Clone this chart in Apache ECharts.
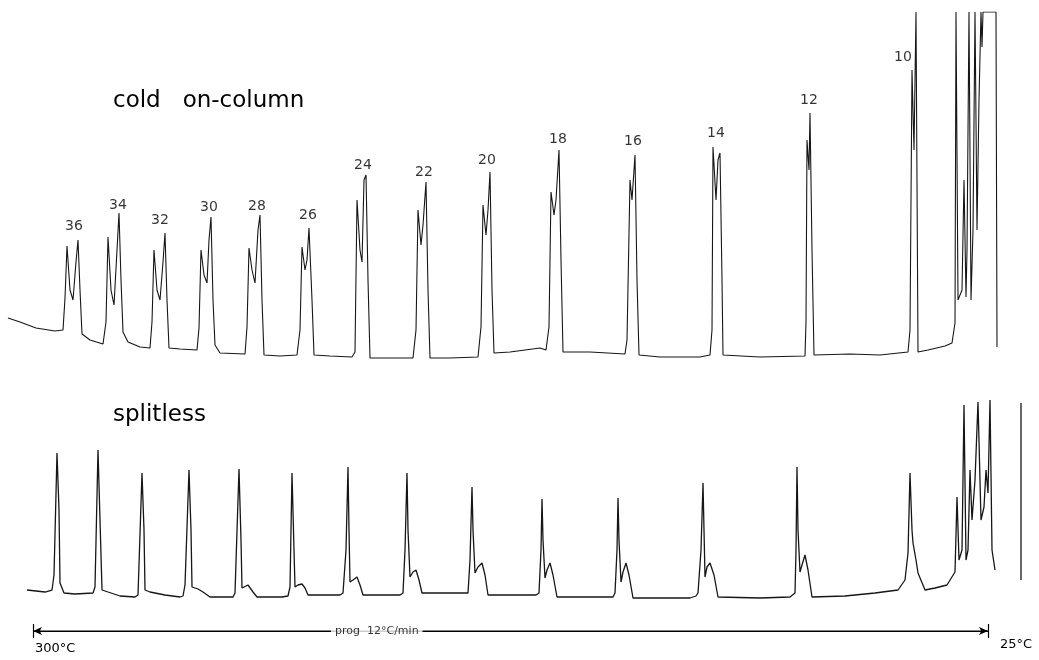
<!DOCTYPE html>
<html>
<head>
<meta charset="utf-8">
<script src="https://cdn.jsdelivr.net/npm/echarts@6/dist/echarts.min.js"></script>
<style>
html,body{margin:0;padding:0;background:#fff;}
#chart{width:1039px;height:660px;}
</style>
</head>
<body>
<div id="chart"></div>
<script>
// ---- data (x = chart position, y = detector signal) ----
const coldOnColumn = [
[8,42],[20,38],[36,32],[55,29],[63,30],
[65,62],[67,114],[70,70],[73,60],[76,98],[78,120],[80,70],[82,26],[90,20],[103,16],
[106,38],[108,123],[111,70],[114,55],[117,110],[119,147],[121,80],[123,28],[128,18],[140,13],[150,12],
[152,38],[154,110],[157,70],[160,60],[163,98],[165,127],[167,60],[169,12],[180,11],[197,10],
[199,32],[201,110],[204,85],[207,77],[209,120],[211,143],[213,60],[215,15],[220,7],[245,6],
[247,33],[249,112],[252,90],[255,77],[258,130],[260,145],[262,60],[264,5],[280,4],[297,5],
[300,30],[302,113],[305,90],[307,100],[309,132],[312,60],[314,5],[330,4],[352,3],
[355,8],[357,160],[360,110],[362,98],[364,180],[366,185],[368,80],[370,2],[390,2],[413,2],
[416,30],[418,150],[421,115],[423,135],[426,178],[428,70],[430,2],[450,2],[478,3],
[481,33],[483,155],[486,125],[488,150],[490,188],[492,70],[494,7],[510,8],[540,12],[546,10],
[549,33],[551,168],[554,145],[556,160],[559,210],[561,100],[563,8],[590,8],[625,6],
[627,20],[630,180],[632,160],[635,205],[637,80],[639,5],[660,3],[700,3],[710,5],
[712,30],[713,213],[716,160],[718,200],[720,207],[722,80],[723,5],[760,3],[805,4],
[806,38],[807,220],[809,190],[810,247],[812,110],[814,5],[850,6],[880,5],[908,8],
[910,30],[912,290],[914,210],[916,348],[918,8],[928,10],[945,14],[952,17],[955,37],
[956,348],[958,60],[962,70],[964,180],[966,63],[967,110],[969,348],[971,60],[973,130],
[975,348],[977,130],[979,260],[981,348],[982,313],[983,348],[996,348],[997,13]
];
const splitless = [
[27,20],[45,18],[52,20],[54,35],[57,157],[59,100],[60,27],[64,17],[75,16],[93,17],
[95,23],[98,160],[100,90],[102,20],[108,18],[120,14],[135,13],
[138,15],[142,137],[144,80],[145,20],[150,18],[165,15],[180,13],[183,14],
[185,25],[189,140],[191,80],[192,23],[198,21],[203,18],[210,13],[233,13],
[235,17],[239,141],[241,70],[242,22],[248,25],[253,18],[257,13],[282,13],[288,14],
[290,23],[292,137],[294,60],[295,23],[298,25],[302,26],[305,22],[308,15],[340,15],
[343,17],[346,60],[348,143],[349,80],[350,28],[353,30],[357,33],[360,25],[363,15],[400,15],
[403,17],[405,60],[407,137],[408,80],[410,33],[413,38],[416,40],[419,30],[422,17],[465,17],
[468,17],[470,50],[472,123],[473,80],[475,37],[478,43],[482,47],[485,35],[488,15],[536,15],
[539,17],[541,60],[542,111],[543,70],[545,32],[547,40],[550,47],[553,35],[557,13],[613,13],
[615,17],[617,60],[618,112],[619,70],[621,28],[623,38],[626,47],[629,35],[633,12],[690,12],
[696,14],[698,17],[701,60],[703,127],[704,80],[705,33],[707,43],[710,47],[714,35],[718,13],[760,12],[790,13],
[795,17],[796,60],[797,143],[798,80],[800,38],[802,45],[805,55],[808,40],[812,13],[845,14],[875,17],[898,20],[905,30],
[908,57],[910,137],[912,80],[913,67],[916,50],[918,37],[925,20],[935,22],[947,25],
[955,38],[957,113],[959,50],[962,60],[964,205],[966,50],[968,60],[970,140],[972,90],[975,130],
[978,208],[981,90],[984,103],[986,140],[988,117],[990,210],[992,60],[995,40],
[null,null],[1021,30],[1021,207]
];
const peakNames = ['36','34','32','30','28','26','24','22','20','18','16','14','12','10'];
const peakLabelX = [74,118,160,209,257,308,363,424,487,558,633,716,809,903];
const peakLabelY = [134,155,140,153,154,145,195,188,200,221,219,227,260,303];
const tempRange = [300, 25];
const tempLabels = ['300°C', '25°C'];
const progLabel = 'prog  12°C/min';
const progLabelAt = 201;
const panelTitles = ['cold   on-column', 'splitless'];

// ---- chart ----
const FONT = 'DejaVu Sans';
const INK = '#000000';
const chart = echarts.init(document.getElementById('chart'));
const labelData = peakNames.map((n, i) => ({ name: n, value: [peakLabelX[i], peakLabelY[i]] }));

chart.setOption({
  animation: false,
  backgroundColor: '#ffffff',
  title: [
    { text: panelTitles[0], left: 108, top: 85,
      textStyle: { fontFamily: FONT, fontSize: 23, fontWeight: 'normal', color: INK } },
    { text: panelTitles[1], left: 108, top: 399,
      textStyle: { fontFamily: FONT, fontSize: 23, fontWeight: 'normal', color: INK } }
  ],
  grid: [
    { left: 0, right: 0, top: 12, height: 348 },
    { left: 0, right: 0, top: 390, height: 220 },
    { left: 33, right: 51, top: 624, height: 14 }
  ],
  xAxis: [
    { type: 'value', gridIndex: 0, min: 0, max: 1039, show: false },
    { type: 'value', gridIndex: 1, min: 0, max: 1039, show: false },
    { type: 'value', gridIndex: 2, min: tempRange[1], max: tempRange[0], inverse: true, show: false }
  ],
  yAxis: [
    { type: 'value', gridIndex: 0, min: 0, max: 348, show: false },
    { type: 'value', gridIndex: 1, min: 0, max: 220, show: false },
    { type: 'value', gridIndex: 2, min: -1, max: 1, show: false }
  ],
  graphic: [
    { type: 'text', left: 35, top: 642,
      style: { text: tempLabels[0], font: '13px ' + FONT, fill: INK } },
    { type: 'text', left: 1000, top: 638,
      style: { text: tempLabels[1], font: '13px ' + FONT, fill: INK } }
  ],
  series: [
    { type: 'line', xAxisIndex: 0, yAxisIndex: 0, data: coldOnColumn, showSymbol: false,
      lineStyle: { color: '#161616', width: 1.1 }, silent: true },
    { type: 'line', xAxisIndex: 1, yAxisIndex: 1, data: splitless, showSymbol: false, connectNulls: false,
      lineStyle: { color: '#161616', width: 1.3 }, silent: true },
    { type: 'scatter', xAxisIndex: 0, yAxisIndex: 0, data: labelData, symbolSize: 1,
      itemStyle: { color: 'rgba(0,0,0,0)' }, silent: true,
      label: { show: true, position: 'inside', formatter: '{b}', fontFamily: FONT, fontSize: 14, color: INK } },
    { type: 'line', xAxisIndex: 2, yAxisIndex: 2, z: 2,
      data: [[tempRange[0], 0], [tempRange[1], 0]], showSymbol: false,
      lineStyle: { color: INK, width: 1.2 }, silent: true,
      markLine: { silent: true, symbol: ['arrow', 'arrow'], symbolSize: [6, 9],
        lineStyle: { color: INK, width: 1.2, type: 'solid' }, label: { show: false },
        data: [[{ coord: [tempRange[0], 0] }, { coord: [tempRange[1], 0] }]] } },
    { type: 'line', xAxisIndex: 2, yAxisIndex: 2, data: [], silent: true, z: 2,
      markLine: { silent: true, symbol: ['none', 'none'],
        lineStyle: { color: INK, width: 1.2, type: 'solid' }, label: { show: false },
        data: [{ xAxis: tempRange[0] }, { xAxis: tempRange[1] }] } },
    { type: 'scatter', xAxisIndex: 2, yAxisIndex: 2, data: [[progLabelAt, 0]], symbolSize: 1, z: 20, zlevel: 1,
      itemStyle: { color: 'rgba(0,0,0,0)' }, silent: true,
      label: { show: true, position: 'inside', formatter: progLabel, fontFamily: FONT, fontSize: 11,
        color: INK, backgroundColor: '#ffffff', padding: [2, 4] } }
  ]
});
</script>
</body>
</html>
